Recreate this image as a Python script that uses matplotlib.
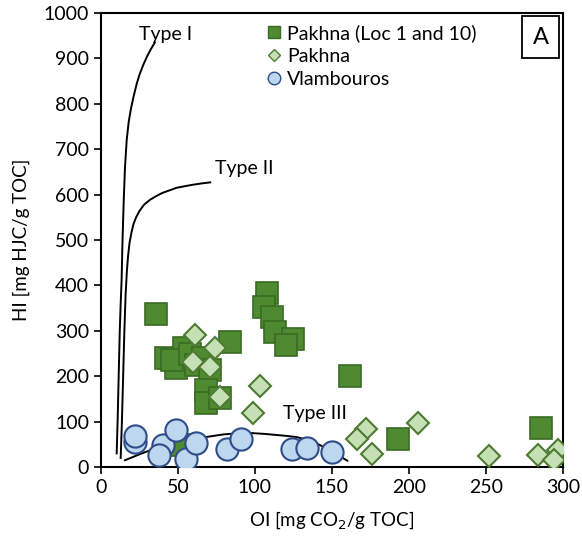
import matplotlib.pyplot as plt
from matplotlib.lines import Line2D

plt.rcParams['font.family'] = ['Lato', 'DejaVu Sans']

# Pakhna (Loc 1 and 10) - dark green squares
loc_oi = [36, 42, 49, 54, 46, 58, 62, 66, 71, 68, 68, 77, 84, 51,
          108, 106, 111, 113, 125, 120, 162, 193, 286]
loc_hi = [337, 240, 218, 262, 235, 250, 225, 240, 214, 170, 141, 152, 276, 48,
          383, 353, 331, 298, 283, 269, 200, 62, 87]

# Pakhna - light green diamonds
pak_oi = [61, 74, 60, 71, 103, 99, 77, 172, 166, 176, 206, 252, 284, 297, 294]
pak_hi = [291, 262, 232, 220, 179, 119, 155, 83, 62, 28, 96, 24, 26, 37, 15]

# Vlambouros - blue circles
vla_oi = [22, 22, 40, 49, 38, 55, 62, 82, 91, 124, 134, 150]
vla_hi = [56, 68, 48, 82, 27, 17, 52, 40, 61, 40, 42, 32]

# kerogen type curves
t1_oi = [10.2, 10.8, 11.5, 12.2, 12.8, 13.4, 14.0, 14.8, 15.6, 16.7, 18.0,
         19.5, 21.3, 23.2, 25.2, 27.5, 30.0, 32.5, 35]
t1_hi = [30, 100, 200, 300, 360, 412, 500, 589, 660, 720, 760,
         790, 818, 844, 866, 886, 905, 921, 935]
t2_oi = [12.8, 13.6, 14.4, 15.2, 16.0, 16.8, 17.6, 18.6, 19.9, 21.2, 22.8,
         25, 28, 32, 36, 40, 45, 49, 55, 60, 66, 71]
t2_hi = [20, 100, 200, 300, 380, 430, 465, 495, 518, 536, 550,
         564, 578, 589, 597, 604, 610, 615, 619, 622, 625, 627]
t3_oi = [15.6, 20, 25, 32, 40, 48, 56, 64, 72, 80, 88, 97, 106, 116, 122,
         127, 134, 140, 146, 152, 156, 160]
t3_hi = [15, 21, 28, 37, 45, 52, 58, 64, 68, 72, 74, 75, 73, 70, 68,
         66, 60, 52, 42, 30, 22, 14]

fig = plt.figure(figsize=(5.82, 5.44), dpi=100)
ax = fig.add_axes([0.1735, 0.1415, 0.7935, 0.8345])

ax.plot(t1_oi, t1_hi, color='black', lw=1.4, zorder=1)
ax.plot(t2_oi, t2_hi, color='black', lw=1.4, zorder=1)
ax.plot(t3_oi, t3_hi, color='black', lw=1.4, zorder=1)

ax.plot(loc_oi, loc_hi, 's', ms=15.5, mfc='#4E8A30', mec='#3A6B22', mew=1.2,
        ls='none', zorder=2)
ax.plot(pak_oi, pak_hi, 'D', ms=11.5, mfc='#C5E0B4', mec='#4E7A33', mew=1.5,
        ls='none', zorder=3)
ax.plot(vla_oi, vla_hi, 'o', ms=16, mfc='#BDD7EE', mec='#2F4C8A', mew=1.5,
        ls='none', zorder=4)

ax.text(25, 953, 'Type I', fontsize=14, va='center')
ax.text(74, 657, 'Type II', fontsize=14, va='center')
ax.text(118, 119, 'Type III', fontsize=14, va='center')

handles = [
    Line2D([], [], marker='s', ms=9, mfc='#4E8A30', mec='#3A6B22', ls='none'),
    Line2D([], [], marker='D', ms=6.5, mfc='#C5E0B4', mec='#4E7A33', ls='none'),
    Line2D([], [], marker='o', ms=9, mfc='#BDD7EE', mec='#2F4C8A', ls='none'),
]
ax.legend(handles, ['Pakhna (Loc 1 and 10)', 'Pakhna', 'Vlambouros'],
          loc='upper left', bbox_to_anchor=(0.325, 1.005), frameon=False,
          fontsize=14, handletextpad=0.15, labelspacing=0.3,
          handlelength=1.0, borderaxespad=0.3)

ax.text(0.952, 0.947, 'A', transform=ax.transAxes, fontsize=17,
        ha='center', va='center',
        bbox=dict(boxstyle='square,pad=0.45', fc='white', ec='black', lw=1.3))

ax.set_xlim(0, 300)
ax.set_ylim(0, 1000)
ax.set_xticks(range(0, 301, 50))
ax.set_yticks(range(0, 1001, 100))
ax.tick_params(labelsize=14, direction='out', length=5, width=1.2)
for s in ax.spines.values():
    s.set_linewidth(1.5)

ax.set_xlabel('OI [mg CO$_2$/g TOC]', fontsize=13.5, labelpad=10)
ax.set_ylabel('HI [mg HJC/g TOC]', fontsize=13.5, labelpad=10)

fig.savefig('out.png', dpi=100)
